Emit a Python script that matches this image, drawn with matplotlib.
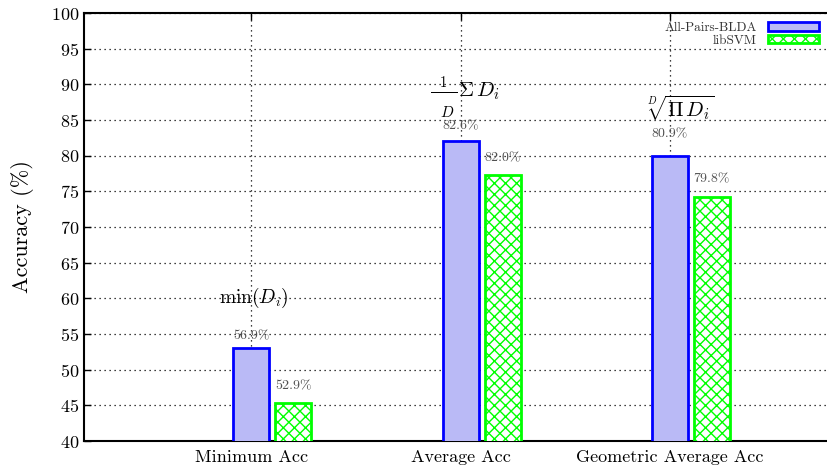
import matplotlib
matplotlib.use("Agg")
import matplotlib.pyplot as plt
import numpy as np

categories = ["Minimum Acc", "Average Acc", "Geometric Average Acc"]
series_names = ["All-Pairs-BLDA", "libSVM"]
blda_values = [53.0, 82.1, 79.9]
svm_values = [45.3, 77.3, 74.2]
blda_labels = ["56.9%", "82.6%", "80.9%"]
svm_labels = ["52.9%", "82.0%", "79.8%"]
y_ticks = list(range(40, 101, 5))

plt.rcParams["font.family"] = ["cmr10", "DejaVu Serif"]
plt.rcParams["mathtext.fontset"] = "cm"
plt.rcParams["axes.formatter.use_mathtext"] = True
plt.rcParams["hatch.linewidth"] = 1.0

W, H = 828, 466
fig = plt.figure(figsize=(W / 100, H / 100), dpi=100)
# axes box in pixels: left 84, right ~837 (cut off), top 13, bottom 441
ax = fig.add_axes([84 / W, (H - 441) / H, (837.4 - 84) / W, (441 - 13) / H])

x = np.arange(len(categories))
width = 0.172
offset = 0.2
blue_fill = "#babaf6"

ax.bar(x, blda_values, width, color=blue_fill, edgecolor="#0000ff",
       linewidth=2, label=series_names[0], zorder=3)
ax.bar(x + offset, svm_values, width, color="white", edgecolor="#00ff00",
       hatch="xxx", linewidth=2, label=series_names[1], zorder=3)

# value labels as printed in the original, above each bar
blda_lift = [11.6, 14.0, 22.3]
svm_lift = [17.0, 16.3, 17.3]
for i in range(len(categories)):
    ax.annotate(blda_labels[i], (x[i], blda_values[i]), xytext=(0, blda_lift[i]),
                textcoords="offset pixels", ha="center", va="center",
                fontsize=10, color="#505050", zorder=4)
    ax.annotate(svm_labels[i], (x[i] + offset, svm_values[i]), xytext=(0, svm_lift[i]),
                textcoords="offset pixels", ha="center", va="center",
                fontsize=10, color="#505050", zorder=4)

# formulas
ax.text(0.01, 60.05, r"$\min(D_i)$", ha="center", va="center", fontsize=14, zorder=4)
ax.text(1.02, 89.4, r"$\frac{1}{\qquad}\Sigma\,D_i$", ha="center", va="center",
        fontsize=15, zorder=4)
ax.text(0.935, 86.0, r"$D$", ha="center", va="center", fontsize=11, zorder=4)
ax.text(2.05, 86.6, r"$\sqrt[D]{\Pi\,D_i}$", ha="center", va="center",
        fontsize=15, zorder=4)

ax.set_xlim(-0.8, 2.8)
ax.set_ylim(40, 100)
ax.set_yticks(y_ticks)
ax.set_xticks(x)
ax.set_xticklabels(categories)
ax.set_ylabel("Accuracy (%)", fontsize=16, labelpad=12)
ax.tick_params(axis="both", direction="in", labelsize=13, top=True, right=False,
               length=5, width=1)
ax.tick_params(axis="x", pad=6)
ax.grid(True, color="black", linestyle=(0, (1, 3)), linewidth=0.9, zorder=0)
ax.set_axisbelow(True)
for side in ["left", "top", "bottom"]:
    ax.spines[side].set_linewidth(1.5)
ax.spines["right"].set_visible(False)

leg = ax.legend(loc="upper right", bbox_to_anchor=(819 / W, 1 - 22 / H),
                bbox_transform=fig.transFigure, frameon=False, markerfirst=False,
                fontsize=9.5, handlelength=3.9, handleheight=0.6, labelspacing=0.05,
                borderpad=0, borderaxespad=0, handletextpad=0.8)
for t in leg.get_texts():
    t.set_color("#333333")

fig.savefig("out.png", dpi=100)
